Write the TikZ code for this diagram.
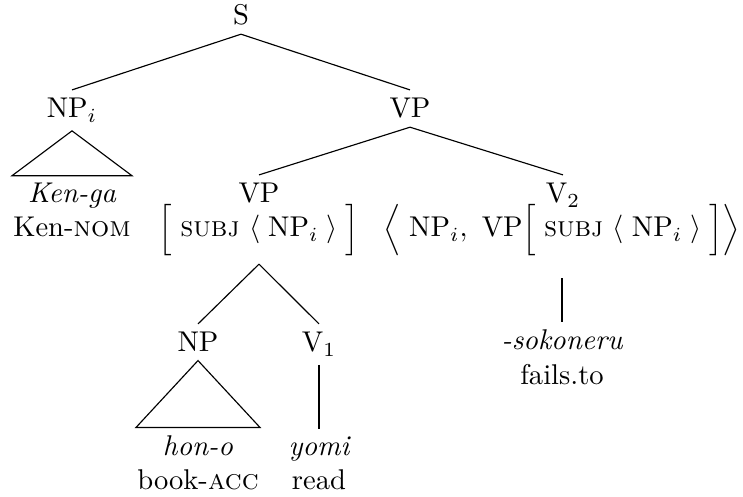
\documentclass[tikz,border=0pt]{standalone}
\usepackage{amsmath}
\usetikzlibrary{calc}
\newcommand{\subjnp}{\text{\textsc{subj}}\ \langle\;\mathrm{NP}_i\;\rangle}

\begin{document}
\begin{tikzpicture}[
    x=0.35pt, y=-0.35pt,
    cat/.style={anchor=base,inner sep=2.8pt},
    word/.style={anchor=base,inner sep=2.5pt,font=\itshape},
    gloss/.style={anchor=base,inner sep=2.5pt},
    edge/.style={black,line width=0.4pt},
]
\useasboundingbox (0,0) rectangle (743,497);

% upper part of the tree
\node[cat] (S) at (241,25) {S};
\node[cat] (NPi) at (72,118) {NP$_i$};
\node[cat] (VPtop) at (410,118) {VP};
\node[word] (kenga) at (72,203) {Ken-ga};
\node[gloss] (kennom) at (72,237) {Ken-\textsc{nom}};

\node[cat] (VPlow) at (259,203) {VP};
\node[cat] (VPfeat) at (259,237) {$\Bigl[\;\subjnp\;\Bigr]$};
\node[cat] (V2) at (563,203) {V$_2$};
\node[cat] (V2feat) at (562,237)
  {$\Bigl\langle\;\mathrm{NP}_i,\ \mathrm{VP}\Bigl[\;\subjnp\;\Bigr]\Bigr\rangle$};

% lower part
\node[cat] (NP) at (198,352) {NP};
\node[cat] (V1) at (319,352) {V$_1$};
\node[word] (hono) at (198,455) {hon-o};
\node[gloss] (bookacc) at (198,489) {book-\textsc{acc}};
\node[word] (yomi) at (319,455) {yomi};
\node[gloss] (read) at (319,489) {read};
\node[word] (soko) at (562,350) {-sokoneru};
\node[gloss] (failsto) at (562,384) {fails.to};

\draw[edge] (S.south) -- (NPi.north);
\draw[edge] (S.south) -- (VPtop.north);
\draw[edge] (VPtop.south) -- (VPlow.north);
\draw[edge] (VPtop.south) -- (V2.north);
\draw[edge] (VPfeat.south) -- (NP.north);
\draw[edge] (VPfeat.south) -- (V1.north);
\draw[edge] (V1.south) -- (yomi.north);
\draw[edge,shorten <=5pt] (V2feat.south) -- (soko.north);

% triangles
\draw[edge] (NPi.south) -- ([xshift=-21pt]kenga.north)
  -- ([xshift=21pt]kenga.north) -- cycle;
\draw[edge] (NP.south) -- ([xshift=-21.7pt]hono.north)
  -- ([xshift=21.7pt]hono.north) -- cycle;

\end{tikzpicture}
\end{document}
